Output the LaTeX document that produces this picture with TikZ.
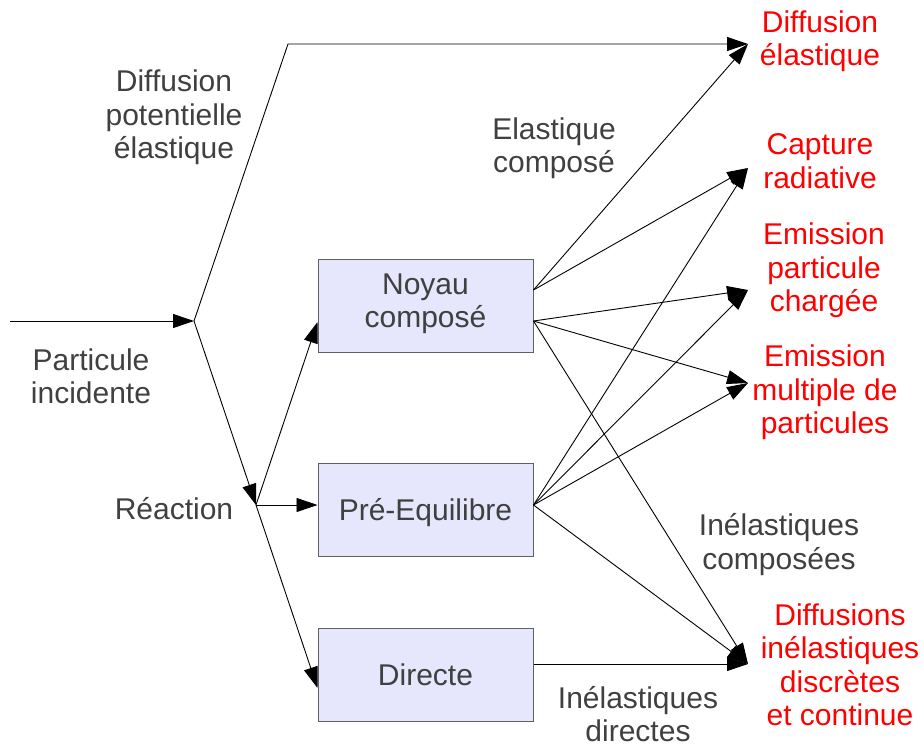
\documentclass[tikz,border=0pt]{standalone}
\usepackage{fontspec}
\setmainfont{Liberation Sans}
\usetikzlibrary{arrows.meta}
\definecolor{labelgrey}{RGB}{64,64,64}
\definecolor{boxfill}{RGB}{230,230,252}
\definecolor{boxline}{RGB}{96,96,96}
\begin{document}
\begin{tikzpicture}[x=1pt,y=-1pt,
  txt/.style={font=\fontsize{30}{33.5}\selectfont,align=center,inner sep=0pt,
    execute at begin node=\strut,execute at end node=\strut},
  lbl/.style={txt,text=labelgrey},
  outcome/.style={txt,text=red},
  stagebox/.style={draw=boxline,line width=1pt,fill=boxfill,minimum width=215pt,minimum height=93pt,
    txt,text=labelgrey,execute at begin node={\rule{0pt}{31.5pt}\strut}},
  flow/.style={line width=0.9pt,-{Triangle[length=21pt,width=14pt]}}]
\useasboundingbox (0,0) rectangle (924,747);

% stage boxes
\node[stagebox] (nc) at (425.5,305.5) {Noyau\\compos\'e};
\node[stagebox] (pe) at (425.5,509.5) {Pr\'e-Equilibre};
\node[stagebox] (di) at (425.5,674.5) {Directe};

% branching points and arrow targets
\coordinate (src) at (10,321);
\coordinate (j1) at (194,321);
\coordinate (j2) at (256,505);
\coordinate (bend) at (288,44);
\coordinate (tDE) at (748,44);
\coordinate (tCR) at (748,168);
\coordinate (tEC) at (748,290);
\coordinate (tEM) at (748,383);
\coordinate (tDI) at (748,664);

% labels
\node[lbl] (l1) at (174,119.5) {Diffusion\\potentielle\\\'elastique};
\node[lbl] (l2) at (91,381) {Particule\\incidente};
\node[lbl] (l3) at (174,512.5) {R\'eaction};
\node[lbl] (l4) at (554,150) {Elastique\\compos\'e};
\node[lbl] (l5) at (779,546.5) {In\'elastiques\\compos\'ees};
\node[lbl] (l6) at (638,719) {In\'elastiques\\directes};

% outcomes
\node[outcome] (o1) at (820,43) {Diffusion\\\'elastique};
\node[outcome] (o2) at (820,166) {Capture\\radiative};
\node[outcome] (o3) at (824,272.5) {Emission\\particule\\charg\'ee};
\node[outcome] (o4) at (825,394.5) {Emission\\multiple de\\particules};
\node[outcome] (o5) at (840,669.5) {Diffusions\\in\'elastiques\\discr\`etes\\et continue};

% incoming particle and branches
\draw[flow] (src) -- (j1);
\draw[flow] (j1) -- (bend) -- (tDE);
\draw[flow] (j1) -- (j2);
\draw[flow] (j2) -- ([yshift=-16.5pt]nc.west);
\draw[flow] (j2) -- ([yshift=4.5pt]pe.west);
\draw[flow] (j2) -- ([yshift=-13.5pt]di.west);

% from the compound nucleus
\draw[flow] ([yshift=15.5pt]nc.east) -- (tDE);
\draw[flow] ([yshift=15.5pt]nc.east) -- (tCR);
\draw[flow] ([yshift=-15.5pt]nc.east) -- (tEC);
\draw[flow] ([yshift=-15.5pt]nc.east) -- (tEM);
\draw[flow] ([yshift=-15.5pt]nc.east) -- (tDI);

% from pre-equilibrium
\draw[flow] ([yshift=4.5pt]pe.east) -- (tCR);
\draw[flow] ([yshift=4.5pt]pe.east) -- (tEC);
\draw[flow] ([yshift=4.5pt]pe.east) -- (tEM);
\draw[flow] ([yshift=4.5pt]pe.east) -- (tDI);

% direct reactions
\draw[flow] ([yshift=10.5pt]di.east) -- (tDI);
\end{tikzpicture}
\end{document}
